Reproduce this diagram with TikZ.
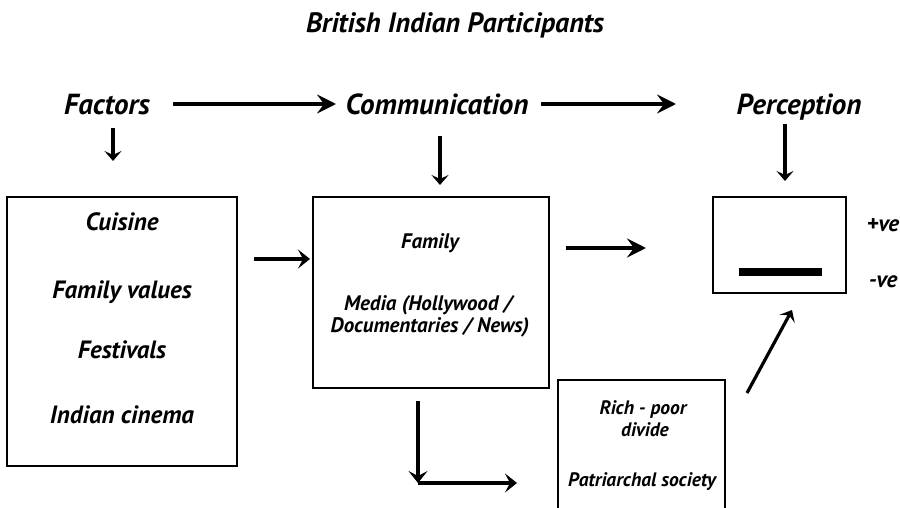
\documentclass[tikz,border=0pt]{standalone}
\usepackage{fontspec}
\setmainfont{PT Sans}
\usetikzlibrary{arrows.meta}
\begin{document}
\begin{tikzpicture}[x=1pt,y=-1pt,
  lbl/.style={font=\bfseries\itshape\fontsize{#1}{#1}\selectfont, anchor=base, inner sep=0pt},
  lbl/.default=20,
  frame/.style={draw, line width=1.6pt, inner sep=0pt},
  bigarrow/.style={line width=4.5pt, -{Stealth[length=19pt,width=19pt,inset=7pt]}},
  midarrow/.style={line width=4.2pt, -{Stealth[length=12pt,width=19pt,inset=5pt]}},
  thinarrow/.style={line width=3.2pt, -{Stealth[length=10pt,width=17pt,inset=4pt]}}]
\clip (0,0) rectangle (900,508);
\fill[white] (0,0) rectangle (900,508);

% heading
\node[lbl=28] (title) at (455,33) {British Indian Participants};

% stage labels
\node[lbl=29] (fac) at (107,115) {Factors};
\node[lbl=29] (com) at (437,115) {Communication};
\node[lbl=29] (per) at (799,115) {Perception};

% boxes
\node[frame, minimum width=230pt, minimum height=269pt] (b1) at (122,331.5) {};
\node[frame, minimum width=236pt, minimum height=191pt] (b2) at (431,292.5) {};
\node[frame, minimum width=133pt, minimum height=96pt] (b3) at (779.5,245) {};
\node[frame, minimum width=167pt, minimum height=160pt] (b4) at (641.5,460) {};

% box contents
\node[lbl=25] (t11) at (122,230) {Cuisine};
\node[lbl=25] (t12) at (122,298) {Family values};
\node[lbl=25] (t13) at (122,358) {Festivals};
\node[lbl=25] (t14) at (122,423) {Indian cinema};

\node[lbl=21] (t21) at (430,248) {Family};
\node[lbl=21] (t22) at (428,310) {Media (Hollywood /};
\node[lbl=21] (t23) at (430,332) {Documentaries / News)};

\node[lbl=19.5] (t41) at (643,414) {Rich - poor};
\node[lbl=19.5] (t42) at (645,436) {divide};
\node[lbl=19.5] (t43) at (642,486) {Patriarchal society};

\node[lbl=23] (pos) at (883,231) {+ve};
\node[lbl=23] (neg) at (883,287) {-ve};

% bar inside the perception box
\fill (739,268) rectangle (822,276);

% arrow end points
\coordinate (a1s) at (173,104); \coordinate (a1e) at (336,104);
\coordinate (a2s) at (541,104); \coordinate (a2e) at (676,104);
\coordinate (d1s) at (113,128); \coordinate (d1e) at (113,161);
\coordinate (d2s) at (440,136); \coordinate (d2e) at (440,185);
\coordinate (d3s) at (785,124); \coordinate (d3e) at (785,181);
\coordinate (h1s) at (254,259); \coordinate (h1e) at (310,259);
\coordinate (h2s) at (566,248); \coordinate (h2e) at (646,248);
\coordinate (gs) at (747,393);  \coordinate (ge) at (792,310);
\coordinate (ls) at (418,401);  \coordinate (lc) at (418,483);
\coordinate (le) at (517,483);

\draw[bigarrow] (a1s) -- (a1e);
\draw[bigarrow] (a2s) -- (a2e);
\draw[thinarrow] (d1s) -- (d1e);
\draw[thinarrow] (d2s) -- (d2e);
\draw[thinarrow] (d3s) -- (d3e);
\draw[midarrow] (h1s) -- (h1e);
\draw[bigarrow] (h2s) -- (h2e);
\draw[thinarrow] (gs) -- (ge);
\draw[midarrow] (ls) -- (lc);
\draw[midarrow] (lc) -- (le);
\end{tikzpicture}
\end{document}
